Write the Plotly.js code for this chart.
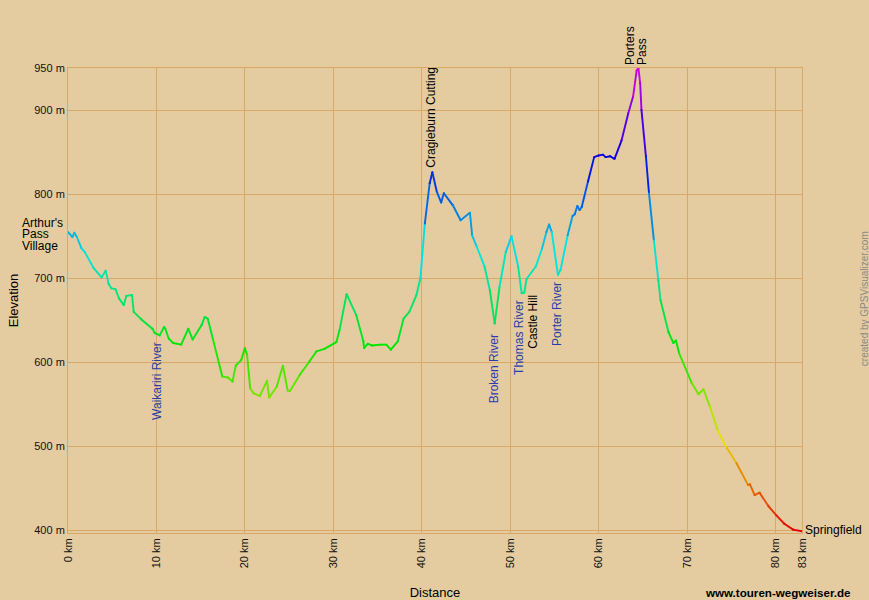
<!DOCTYPE html>
<html>
<head>
<meta charset="utf-8">
<script src="https://cdn.plot.ly/plotly-3.0.1.min.js"></script>
<style>html,body{margin:0;padding:0;background:#e4cca0;}#chart{width:869px;height:600px;}</style>
</head>
<body>
<div id="chart"></div>
<script>
// Distance (km) along the route
const distanceKm = [0.0,0.5,0.72,1.0,1.5,1.9,2.9,3.8,4.26,4.6,4.9,5.36,5.77,6.3,6.6,7.24,7.43,8.3,9.55,9.8,10.37,10.86,11.0,11.4,11.9,12.8,13.6,14.1,15.1,15.46,15.8,16.4,17.45,18.1,18.6,18.97,19.6,20.0,20.25,20.6,21.0,21.7,22.5,22.75,23.6,24.3,24.85,25.1,26.2,27.3,28.1,29.0,30.35,30.7,31.5,32.6,33.4,33.5,33.9,34.4,35.3,36.0,36.5,37.3,37.95,38.6,39.4,39.85,40.35,40.9,41.2,41.7,42.2,42.5,43.5,44.4,45.45,45.7,46.2,47.1,47.7,48.25,48.8,49.5,50.15,50.9,51.3,51.6,51.85,52.9,53.6,54.1,54.4,54.7,55.4,55.7,56.5,57.05,57.3,57.6,57.85,58.1,58.8,59.5,60.0,60.5,60.8,61.3,61.8,62.6,63.35,63.9,64.3,64.5,64.7,64.85,65.35,65.7,66.25,66.75,67.0,67.9,68.45,68.75,69.1,70.5,71.3,71.85,72.6,73.5,74.5,75.6,76.9,77.1,77.65,78.2,79.2,80.1,81.0,82.0,83.0];
// Elevation (m)
const elevationM = [755,749,754,749,736,731,712,701,709,693,688,687,676,668,679,680,660,651,640,635,632,642,640,628,623,621,640,627,644,654,652,627,583,582,577,596,603,617,609,569,563,560,578,558,571,596,566,566,585,601,613,616,624,638,681,656,625,617,622,620,621,621,615,625,652,660,680,700,765,813,826,803,790,801,787,769,778,751,738,714,686,646,690,731,750,714,682,683,699,714,735,755,764,755,704,710,751,774,776,786,781,785,815,844,846,847,844,845,842,864,896,916,947,950,932,900,845,801,745,698,674,636,623,626,611,576,562,568,547,518,498,480,454,455,442,445,429,418,408,401,399];

const xTickVals = [0,10,20,30,40,50,60,70,80,83];
const xTickText = ['0 km','10 km','20 km','30 km','40 km','50 km','60 km','70 km','80 km','83 km'];
const yTickVals = [400,500,600,700,800,900,950];
const yTickText = ['400 m','500 m','600 m','700 m','800 m','900 m','950 m'];

// Place labels
const placeNames = ['Waikariri River','Cragieburn Cutting','Broken River','Thomas River','Castle Hill','Porter River'];
const placeKm     = [10.05, 41.1, 48.15, 51.0, 52.5, 55.3];
const placeElev   = [626.5, 829, 636, 676, 683, 698];
const placeAnchor = ['top','bottom','top','top','top','top'];
const placeColor  = ['#2b3caa','#000000','#2b3caa','#2b3caa','#000000','#2b3caa'];

const FONT = 'Liberation Sans, Arial, Helvetica, sans-serif';
const GRID = '#d9a866';
const BG = '#e4cca0';

function hslToHex(h, s, l){
  const a = s * Math.min(l, 1 - l);
  const f = n => {
    const k = (n + h / 30) % 12;
    const c = l - a * Math.max(-1, Math.min(k - 3, 9 - k, 1));
    return Math.round(255 * c).toString(16).padStart(2, '0');
  };
  return '#' + f(0) + f(8) + f(4);
}
function colorFor(e){
  const h = Math.max(0, Math.min(300, (e - 400) / 550 * 300));
  return hslToHex(h, 1, 0.45);
}

const traces = [];
for (let i = 0; i < distanceKm.length - 1; i++){
  const c = colorFor((elevationM[i] + elevationM[i+1]) / 2);
  traces.push({
    x: [distanceKm[i], distanceKm[i+1]],
    y: [elevationM[i], elevationM[i+1]],
    type: 'scatter', mode: 'lines+markers',
    line: {color: c, width: 1.9},
    marker: {color: c, size: 1.9, line: {width: 0}},
    hoverinfo: 'skip', showlegend: false
  });
}

const annotations = [];
for (let i = 0; i < placeNames.length; i++){
  annotations.push({
    x: placeKm[i], y: placeElev[i], xref: 'x', yref: 'y',
    text: placeNames[i], showarrow: false, textangle: -90,
    xanchor: 'center', yanchor: placeAnchor[i],
    font: {family: FONT, size: 12, color: placeColor[i]}
  });
}
// Start label (three lines)
const startLines = ["Arthur's","Pass","Village"];
const startElev = [765.5, 752, 738.5];
for (let i = 0; i < 3; i++){
  annotations.push({x: -0.064, xref: 'paper', y: startElev[i], yref: 'y', text: startLines[i],
    showarrow: false, xanchor: 'left', yanchor: 'middle', borderpad: 0,
    font: {family: FONT, size: 12, color: '#000'}});
}
// Summit label (two rotated lines)
const summitLines = ['Porters','Pass'];
const summitKm = [63.5, 64.85];
for (let i = 0; i < 2; i++){
  annotations.push({x: summitKm[i], xref: 'x', y: 950, yref: 'y', yshift: 2, text: summitLines[i],
    showarrow: false, textangle: -90, xanchor: 'center', yanchor: 'bottom', borderpad: 0,
    font: {family: FONT, size: 12, color: '#000'}});
}
annotations.push({x: 83, xref: 'x', y: 401, yref: 'y', xshift: 1, text: 'Springfield', showarrow: false,
  xanchor: 'left', yanchor: 'middle', font: {family: FONT, size: 12, color: '#000'}});
annotations.push({x: 1.0695, xref: 'paper', y: -0.127, yref: 'paper', text: '<b>www.touren-wegweiser.de</b>', showarrow: false,
  xanchor: 'right', yanchor: 'middle', font: {family: FONT, size: 11.6, color: '#000'}});
annotations.push({x: 1.0845, xref: 'paper', y: 0.503, yref: 'paper', text: 'created by GPSVisualizer.com', showarrow: false,
  textangle: -90, xanchor: 'center', yanchor: 'middle', font: {family: FONT, size: 10, color: '#8a8a8a'}});

const layout = {
  width: 869, height: 600,
  paper_bgcolor: BG, plot_bgcolor: BG,
  margin: {l: 68, r: 67, t: 68, b: 67, pad: 0},
  showlegend: false,
  xaxis: {
    range: [0, 83], tickmode: 'array', tickvals: xTickVals, ticktext: xTickText,
    tickangle: -90, ticks: '', showgrid: true, gridcolor: GRID, gridwidth: 1,
    showline: true, mirror: true, linecolor: GRID, linewidth: 1, zeroline: false,
    tickfont: {family: FONT, size: 11, color: '#111'},
    title: {text: 'Distance', font: {family: FONT, size: 13, color: '#000'}, standoff: 22},
    fixedrange: true
  },
  yaxis: {
    range: [397, 950], tickmode: 'array', tickvals: yTickVals, ticktext: yTickText,
    ticks: '', showgrid: true, gridcolor: GRID, gridwidth: 1,
    showline: true, mirror: true, linecolor: GRID, linewidth: 1, zeroline: false,
    tickfont: {family: FONT, size: 11, color: '#111'},
    title: {text: 'Elevation', font: {family: FONT, size: 13, color: '#000'}, standoff: 12},
    fixedrange: true
  },
  annotations: annotations
};

Plotly.newPlot('chart', traces, layout, {staticPlot: true, displayModeBar: false});
</script>
</body>
</html>
